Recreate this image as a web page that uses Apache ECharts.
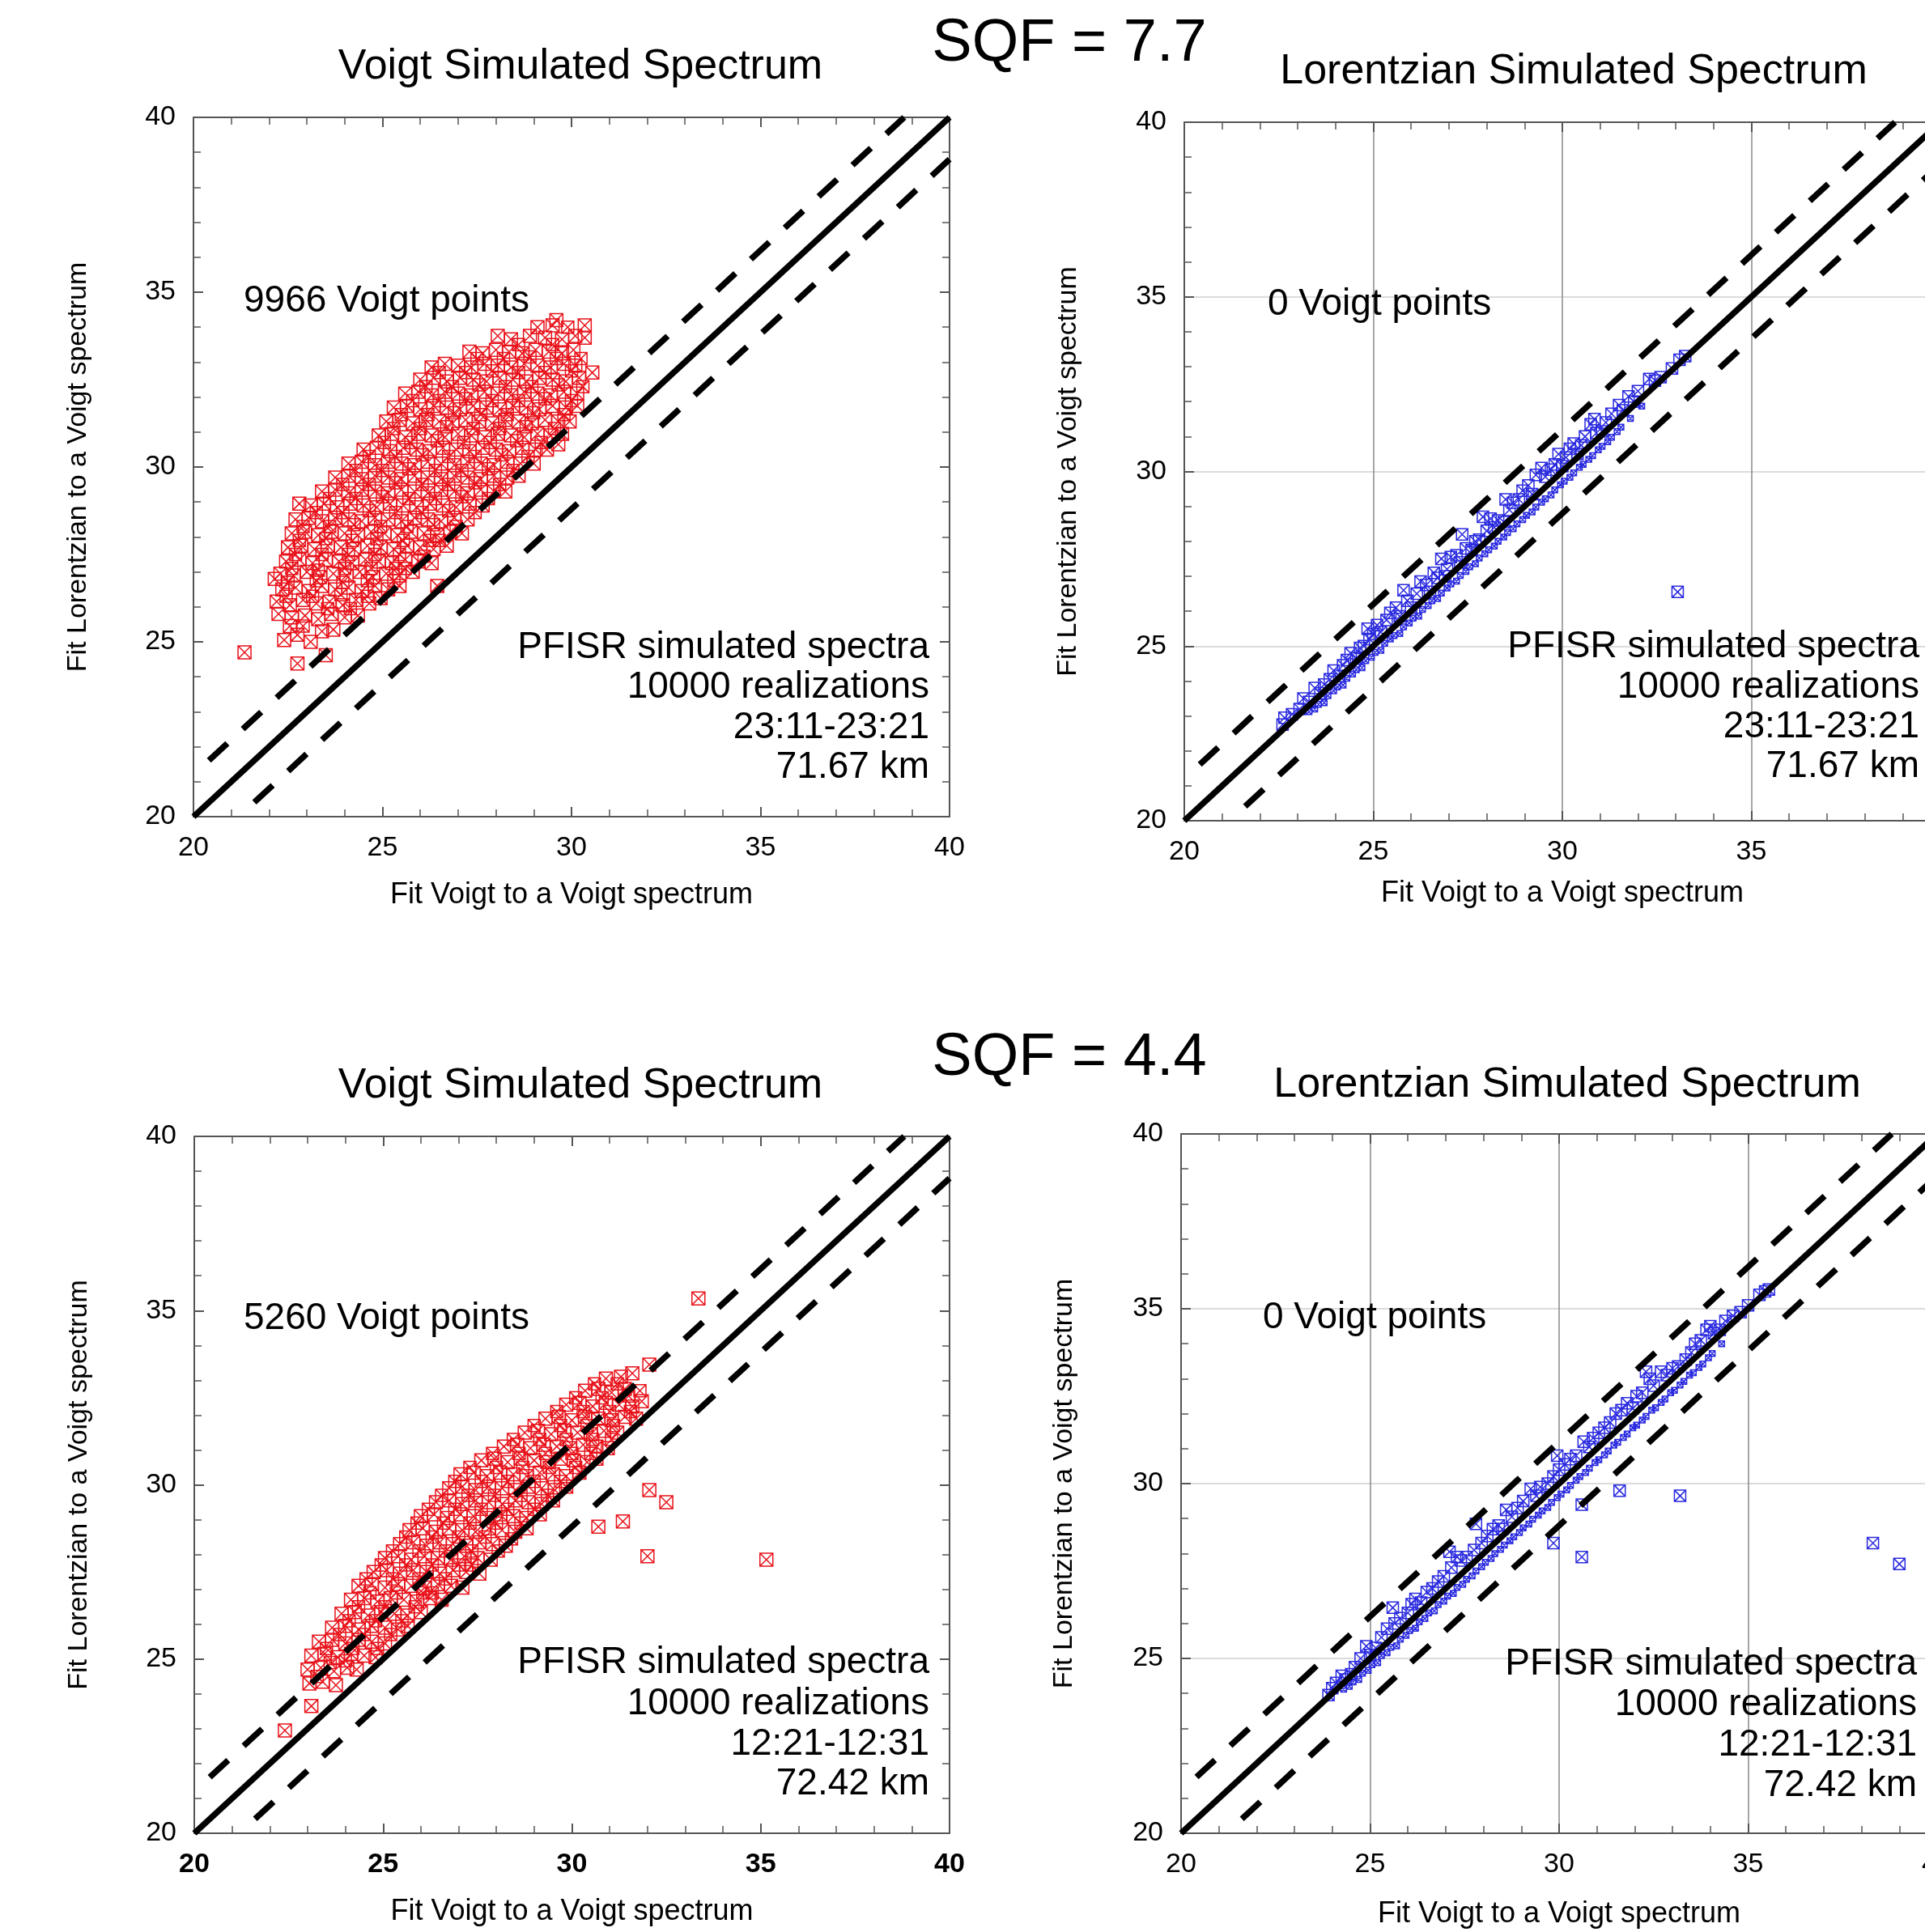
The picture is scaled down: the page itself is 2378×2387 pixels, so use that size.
<!DOCTYPE html>
<html>
<head>
<meta charset="utf-8">
<script src="https://cdn.jsdelivr.net/npm/echarts@6/dist/echarts.min.js"></script>
<style>
  html, body { margin: 0; padding: 0; background: #fff; overflow: hidden; }
  /* the right-hand panels run past the page edge, as in the original figure */
  #chart { width: 2420px; height: 2387px; }
</style>
</head>
<body>
<div id="chart"></div>
<script>
const FONT = '"Liberation Sans", Arial, sans-serif';
const AXIS_MIN = 20;
const AXIS_MAX = 40;
const AXIS_STEP = 5;

const sqfLabels = ["SQF = 7.7", "SQF = 4.4"];
const panelTitles = ["Voigt Simulated Spectrum", "Lorentzian Simulated Spectrum", "Voigt Simulated Spectrum", "Lorentzian Simulated Spectrum"];
const pointCounts = ["9966 Voigt points", "0 Voigt points", "5260 Voigt points", "0 Voigt points"];
const notesTop = ["PFISR simulated spectra", "10000 realizations", "23:11-23:21", "71.67 km"];
const notesBottom = ["PFISR simulated spectra", "10000 realizations", "12:21-12:31", "72.42 km"];
const xName = "Fit Voigt to a Voigt spectrum";
const yName = "Fit Lorentzian to a Voigt spectrum";

// reference lines
const diagonal = [[20, 20], [40, 40]];
const upperBand = [[20, 21.2], [38.8, 40]];
const lowerBand = [[21.2, 20], [40, 38.8]];

// SQF 7.7, Voigt simulated spectrum
const voigt77 = [
  [21.35,24.7],[22.75,24.38],[23.5,24.62],[26.45,26.6],[22.15,26.8],[22.8,28.95],[29.6,34.2],[30.35,34.05],[30.35,33.7],[30.55,32.7],[29.65,30.65],
  [22.4,25.05],[22.75,25.2],[23.1,25.0],[23.4,25.3],[22.55,25.45],[23.7,25.35],
  [22.25,25.8],[22.6,25.7],[22.95,25.75],[23.3,25.65],[23.65,25.8],[24.0,25.7],[24.35,25.75],
  [22.2,26.15],[22.55,26.05],[22.9,26.2],[23.25,26.1],[23.6,26.15],[23.95,26.05],[24.3,26.2],[24.65,26.1],[24.95,26.25],
  [22.35,26.5],[22.7,26.55],[23.05,26.45],[23.4,26.6],[23.75,26.5],[24.1,26.55],[24.45,26.45],[24.8,26.6],[25.15,26.5],[25.45,26.6],
  [22.3,26.95],[22.65,26.9],[23.0,27.0],[23.35,26.85],[23.7,26.95],[24.05,26.9],[24.4,27.0],[24.75,26.85],[25.1,26.95],[25.45,26.9],[25.8,27.0],
  [22.45,27.3],[22.8,27.35],[23.15,27.25],[23.5,27.35],[23.85,27.3],[24.2,27.25],[24.55,27.35],[24.9,27.3],[25.25,27.25],[25.6,27.35],[25.95,27.3],[26.3,27.25],
  [22.5,27.7],[22.85,27.75],[23.2,27.65],[23.55,27.75],[23.9,27.7],[24.25,27.65],[24.6,27.75],[24.95,27.7],[25.3,27.65],[25.65,27.75],[26.0,27.7],[26.35,27.65],[26.7,27.75],
  [22.6,28.1],[22.95,28.15],[23.3,28.05],[23.65,28.15],[24.0,28.1],[24.35,28.05],[24.7,28.15],[25.05,28.1],[25.4,28.05],[25.75,28.15],[26.1,28.1],[26.45,28.05],[26.8,28.15],[27.1,28.1],
  [22.7,28.5],[23.05,28.55],[23.4,28.45],[23.75,28.55],[24.1,28.5],[24.45,28.45],[24.8,28.55],[25.15,28.5],[25.5,28.45],[25.85,28.55],[26.2,28.5],[26.55,28.45],[26.9,28.55],[27.25,28.5],
  [23.1,28.9],[23.45,28.95],[23.8,28.85],[24.15,28.95],[24.5,28.9],[24.85,28.85],[25.2,28.95],[25.55,28.9],[25.9,28.85],[26.25,28.95],[26.6,28.9],[26.95,28.85],[27.3,28.95],[27.65,28.9],
  [23.4,29.3],[23.75,29.35],[24.1,29.25],[24.45,29.35],[24.8,29.3],[25.15,29.25],[25.5,29.35],[25.85,29.3],[26.2,29.25],[26.55,29.35],[26.9,29.3],[27.25,29.25],[27.6,29.35],[27.95,29.3],[28.25,29.3],
  [23.75,29.7],[24.1,29.75],[24.45,29.65],[24.8,29.75],[25.15,29.7],[25.5,29.65],[25.85,29.75],[26.2,29.7],[26.55,29.65],[26.9,29.75],[27.25,29.7],[27.6,29.65],[27.95,29.75],[28.3,29.7],[28.6,29.75],
  [24.1,30.1],[24.45,30.15],[24.8,30.05],[25.15,30.15],[25.5,30.1],[25.85,30.05],[26.2,30.15],[26.55,30.1],[26.9,30.05],[27.25,30.15],[27.6,30.1],[27.95,30.05],[28.3,30.15],[28.65,30.1],[29.0,30.1],
  [24.5,30.5],[24.85,30.55],[25.2,30.45],[25.55,30.55],[25.9,30.5],[26.25,30.45],[26.6,30.55],[26.95,30.5],[27.3,30.45],[27.65,30.55],[28.0,30.5],[28.35,30.45],[28.7,30.55],[29.05,30.5],[29.35,30.5],
  [24.9,30.9],[25.25,30.95],[25.6,30.85],[25.95,30.95],[26.3,30.9],[26.65,30.85],[27.0,30.95],[27.35,30.9],[27.7,30.85],[28.05,30.95],[28.4,30.9],[28.75,30.85],[29.1,30.95],[29.45,30.9],[29.75,30.95],
  [25.1,31.3],[25.45,31.35],[25.8,31.25],[26.15,31.35],[26.5,31.3],[26.85,31.25],[27.2,31.35],[27.55,31.3],[27.9,31.25],[28.25,31.35],[28.6,31.3],[28.95,31.25],[29.3,31.35],[29.65,31.3],[29.95,31.3],
  [25.3,31.7],[25.65,31.75],[26.0,31.65],[26.35,31.75],[26.7,31.7],[27.05,31.65],[27.4,31.75],[27.75,31.7],[28.1,31.65],[28.45,31.75],[28.8,31.7],[29.15,31.65],[29.5,31.75],[29.85,31.7],[30.15,31.75],
  [25.6,32.1],[25.95,32.15],[26.3,32.05],[26.65,32.15],[27.0,32.1],[27.35,32.05],[27.7,32.15],[28.05,32.1],[28.4,32.05],[28.75,32.15],[29.1,32.1],[29.45,32.05],[29.8,32.15],[30.15,32.1],
  [26.0,32.5],[26.35,32.55],[26.7,32.45],[27.05,32.55],[27.4,32.5],[27.75,32.45],[28.1,32.55],[28.45,32.5],[28.8,32.45],[29.15,32.55],[29.5,32.5],[29.85,32.45],[30.2,32.55],
  [26.3,32.85],[26.65,32.95],[27.0,32.9],[27.35,32.85],[27.7,32.95],[28.05,32.9],[28.4,32.85],[28.75,32.95],[29.1,32.9],[29.45,32.85],[29.8,32.95],[30.1,32.9],
  [27.3,33.3],[27.65,33.25],[28.0,33.35],[28.35,33.3],[28.7,33.25],[29.05,33.35],[29.4,33.3],[29.75,33.25],[30.05,33.35],
  [28.05,33.75],[28.4,33.65],[28.9,33.75],[29.3,33.7],[29.75,33.65],[30.1,33.75],
  [29.1,34.0],[29.5,34.05]
];
const voigt77Fill = [
  [22.9,25.45],[23.55,25.95],[24.15,25.95],[22.45,26.3],[23.15,26.3],[23.9,26.35],[24.6,26.3],[25.3,26.75],[22.5,26.7],[23.25,26.75],
  [23.95,26.7],[24.6,26.75],[25.6,27.1],[22.6,27.1],[23.3,27.05],[24.0,27.1],[24.7,27.1],[25.35,27.1],[26.1,27.45],[22.7,27.5],
  [23.4,27.5],[24.1,27.5],[24.8,27.5],[25.45,27.5],[26.5,27.9],[22.8,27.9],[23.5,27.95],[24.2,27.9],[24.85,27.95],[25.55,27.9],
  [26.25,27.9],[26.95,28.3],[22.9,28.3],[23.6,28.3],[24.25,28.35],[24.95,28.3],[25.65,28.3],[26.35,28.35],[27.45,28.7],[23.25,28.7],
  [23.95,28.7],[24.65,28.75],[25.35,28.7],[26.05,28.7],[26.75,28.75],[27.8,29.1],[23.6,29.1],[24.3,29.1],[25.0,29.15],[25.7,29.1],
  [26.4,29.1],[27.1,29.15],[28.1,29.5],[23.95,29.5],[24.65,29.5],[25.35,29.55],[26.05,29.5],[26.75,29.5],[27.45,29.55],[28.45,29.9],
  [24.3,29.9],[25.0,29.9],[25.7,29.95],[26.4,29.9],[27.1,29.9],[27.8,29.95],[28.85,30.3],[24.65,30.3],[25.35,30.3],[26.05,30.35],
  [26.75,30.3],[27.45,30.3],[28.15,30.35],[29.2,30.7],[25.05,30.7],[25.75,30.7],[26.45,30.75],[27.15,30.7],[27.85,30.7],[28.55,30.75],
  [29.55,31.1],[25.3,31.1],[26.0,31.1],[26.7,31.15],[27.4,31.1],[28.1,31.1],[28.8,31.15],[29.8,31.5],[25.5,31.5],[26.2,31.5],
  [26.9,31.55],[27.6,31.5],[28.3,31.5],[29.0,31.55],[30.0,31.9],[25.8,31.9],[26.5,31.9],[27.2,31.95],[27.9,31.9],[28.6,31.9],
  [29.3,31.95],[26.15,32.3],[26.85,32.3],[27.55,32.35],[28.25,32.3],[28.95,32.3],[29.65,32.35],[30.3,32.3],[26.5,32.7],[27.2,32.7],
  [27.9,32.75],[28.6,32.7],[29.3,32.7],[30.0,32.75],[27.5,33.1],[28.2,33.1],[28.9,33.15],[29.6,33.1],[30.25,33.1],[28.6,33.5],
  [29.5,33.5],[29.9,34.0]
];

// SQF 7.7, Lorentzian simulated spectrum (large markers above the diagonal, small below)
const lorentz77Big = [
  [22.6,22.75],[22.65,22.95],[23.05,23.2],[23.3,23.4],[23.45,23.8],[23.7,23.9],[23.95,24.3],[24.2,24.45],[24.4,24.8],[24.65,24.95],
  [24.85,25.5],[24.9,25.2],[25.1,25.6],[25.35,25.75],[25.6,26.1],[25.8,26.6],[25.9,26.3],[26.15,26.5],[26.4,26.75],[26.6,27.1],
  [26.8,27.5],[26.95,27.2],[27.2,27.6],[27.35,28.2],[27.45,27.8],[27.7,28.0],[27.9,28.7],[28.0,28.3],[28.3,28.6],[28.5,29.2],
  [28.6,28.9],[28.85,29.2],[29.1,29.6],[29.3,29.9],[29.45,30.1],[29.7,30.05],[29.9,30.5],[30.1,30.4],[30.3,30.8],[30.5,30.75],
  [30.75,31.35],[30.9,31.1],[31.15,31.4],[31.5,31.9],[31.75,32.15],[31.9,32.0],[32.3,32.65],[32.6,32.7],[33.25,33.3],[33.05,26.55],
  [22.85,23.05],[23.15,23.5],[23.6,23.65],[23.85,24.05],[24.1,24.15],[24.3,24.6],[24.55,24.65],[24.75,25.0],[25.0,25.35],[25.2,25.4],
  [25.45,25.95],[25.7,25.85],[26.0,26.1],[26.25,26.85],[26.5,26.55],[26.7,26.95],[26.9,27.0],[27.05,27.55],[27.3,27.4],[27.6,27.75],
  [27.8,28.05],[28.1,28.65],[28.2,28.4],[28.45,28.55],[28.7,29.1],[28.95,29.45],[29.2,29.35],[29.55,29.85],[29.8,30.2],[30.0,30.15],
  [30.2,30.65],[30.4,30.5],[30.6,31.0],[30.85,31.5],[31.05,31.15],[31.3,31.65],[31.6,31.75],[32.0,32.3],[32.45,32.6],[32.9,32.95],[33.1,33.2]
];
const lorentz77Small = [
  [23.3,23.12],[23.55,23.33],[23.8,23.58],[24.05,23.83],[24.3,24.08],[24.55,24.32],[24.8,24.58],[25.05,24.82],[25.3,25.08],[25.55,25.3],
  [25.8,25.55],[26.05,25.8],[26.3,26.05],[26.55,26.3],[26.8,26.52],[27.05,26.78],[27.3,27.02],[27.55,27.27],[27.8,27.52],[28.05,27.76],
  [28.3,28.0],[28.55,28.25],[28.8,28.5],[29.05,28.74],[29.3,28.98],[29.55,29.22],[29.8,29.47],[30.05,29.72],[30.3,29.96],[30.55,30.2],
  [30.8,30.45],[31.05,30.72],[31.3,30.98],[31.55,31.27],
  [23.7,23.38],[24.2,23.88],[24.7,24.38],[25.2,24.88],[25.7,25.36],[26.2,25.86],[26.7,26.36],[27.2,26.86],[27.7,27.36],[28.2,27.86],
  [28.7,28.36],[29.2,28.84],[29.7,29.33],[30.2,29.83],[30.7,30.35],[31.2,30.85],
  [23.45,23.2],[23.95,23.72],[24.45,24.2],[24.95,24.68],[25.45,25.2],[25.95,25.66],[26.45,26.16],[26.95,26.66],[27.45,27.14],[27.95,27.64],
  [28.45,28.12],[28.95,28.62],[29.45,29.12],[29.95,29.62],[30.45,30.12],[30.95,30.62],[31.45,31.14],[31.8,31.52],[32.1,31.87]
];

// SQF 4.4, Voigt simulated spectrum
const voigt44 = [
  [33.35,35.35],[32.05,33.45],[32.05,29.85],[32.5,29.5],[30.7,28.8],[31.35,28.95],[32.0,27.95],[35.15,27.85],[22.4,22.95],[23.1,23.65],
  [23.05,24.3],[23.4,24.35],[23.75,24.25],
  [23.0,24.7],[23.35,24.75],[23.7,24.65],[24.05,24.75],[24.3,24.7],
  [23.1,25.1],[23.45,25.15],[23.8,25.05],[24.15,25.15],[24.5,25.1],[24.8,25.05],
  [23.3,25.5],[23.65,25.55],[24.0,25.45],[24.35,25.55],[24.7,25.5],[25.05,25.45],
  [23.65,25.9],[24.0,25.95],[24.35,25.85],[24.7,25.95],[25.05,25.9],[25.4,25.85],[25.65,25.95],
  [23.9,26.3],[24.25,26.35],[24.6,26.25],[24.95,26.35],[25.3,26.3],[25.65,26.25],[26.0,26.35],
  [24.15,26.7],[24.5,26.75],[24.85,26.65],[25.2,26.75],[25.55,26.7],[25.9,26.65],[26.25,26.75],[26.55,26.7],
  [24.35,27.1],[24.7,27.15],[25.05,27.05],[25.4,27.15],[25.75,27.1],[26.1,27.05],[26.45,27.15],[26.8,27.1],[27.1,27.05],
  [24.75,27.5],[25.1,27.55],[25.45,27.45],[25.8,27.55],[26.15,27.5],[26.5,27.45],[26.85,27.55],[27.2,27.5],[27.55,27.45],
  [25.05,27.9],[25.4,27.95],[25.75,27.85],[26.1,27.95],[26.45,27.9],[26.8,27.85],[27.15,27.95],[27.5,27.9],[27.85,27.85],
  [25.45,28.3],[25.8,28.35],[26.15,28.25],[26.5,28.35],[26.85,28.3],[27.2,28.25],[27.55,28.35],[27.9,28.3],[28.25,28.25],
  [25.7,28.7],[26.05,28.75],[26.4,28.65],[26.75,28.75],[27.1,28.7],[27.45,28.65],[27.8,28.75],[28.15,28.7],[28.5,28.65],[28.8,28.75],
  [26.0,29.1],[26.35,29.15],[26.7,29.05],[27.05,29.15],[27.4,29.1],[27.75,29.05],[28.1,29.15],[28.45,29.1],[28.8,29.05],[29.15,29.15],
  [26.4,29.5],[26.75,29.55],[27.1,29.45],[27.45,29.55],[27.8,29.5],[28.15,29.45],[28.5,29.55],[28.85,29.5],[29.2,29.45],[29.5,29.55],
  [26.75,29.9],[27.1,29.95],[27.45,29.85],[27.8,29.95],[28.15,29.9],[28.5,29.85],[28.85,29.95],[29.2,29.9],[29.55,29.85],[29.85,29.95],
  [27.05,30.3],[27.4,30.35],[27.75,30.25],[28.1,30.35],[28.45,30.3],[28.8,30.25],[29.15,30.35],[29.5,30.3],[29.85,30.25],[30.2,30.35],
  [27.6,30.7],[27.95,30.75],[28.3,30.65],[28.65,30.75],[29.0,30.7],[29.35,30.65],[29.7,30.75],[30.05,30.7],[30.4,30.65],[30.65,30.75],
  [28.2,31.1],[28.55,31.15],[28.9,31.05],[29.25,31.15],[29.6,31.1],[29.95,31.05],[30.3,31.15],[30.65,31.1],[30.95,31.05],
  [28.75,31.5],[29.1,31.55],[29.45,31.45],[29.8,31.55],[30.15,31.5],[30.5,31.45],[30.85,31.55],[31.2,31.5],
  [29.3,31.9],[29.65,31.95],[30.0,31.85],[30.35,31.95],[30.7,31.9],[31.05,31.85],[31.4,31.95],[31.7,31.9],
  [29.85,32.3],[30.2,32.35],[30.55,32.25],[30.9,32.35],[31.25,32.3],[31.6,32.25],[31.85,32.4],
  [30.35,32.7],[30.7,32.75],[31.05,32.65],[31.4,32.75],
  [30.9,33.05],[31.3,33.1],[31.6,33.2]
];
const voigt44Fill = [
  [23.25,24.5],[23.6,24.9],[24.0,24.95],[23.5,25.3],[24.2,25.3],[24.85,25.3],[23.85,25.7],[24.5,25.7],[25.2,25.7],[24.1,26.1],
  [24.8,26.1],[25.5,26.1],[25.85,26.5],[24.35,26.5],[25.05,26.5],[26.3,26.9],[24.65,26.9],[25.35,26.9],[26.05,26.9],[24.55,27.3],
  [25.25,27.3],[25.95,27.3],[26.65,27.3],[27.35,27.7],[24.95,27.7],[25.6,27.7],[26.3,27.7],[27.0,27.7],[25.25,28.1],[25.95,28.1],
  [26.65,28.1],[27.35,28.1],[28.05,28.1],[25.6,28.5],[26.3,28.5],[27.0,28.5],[27.7,28.5],[28.4,28.45],[25.9,28.9],[26.6,28.9],
  [27.3,28.9],[28.0,28.9],[28.65,28.9],[26.2,29.3],[26.9,29.3],[27.6,29.3],[28.3,29.3],[29.0,29.3],[26.55,29.7],[27.25,29.7],
  [27.95,29.7],[28.65,29.7],[29.35,29.7],[26.9,30.1],[27.6,30.1],[28.3,30.1],[29.0,30.1],[29.7,30.1],[27.3,30.5],[28.0,30.5],
  [28.7,30.5],[29.4,30.5],[30.1,30.5],[27.9,30.9],[28.6,30.9],[29.3,30.9],[30.0,30.9],[30.5,30.9],[28.45,31.3],[29.15,31.3],
  [29.85,31.3],[30.55,31.3],[31.05,31.3],[29.0,31.7],[29.7,31.7],[30.4,31.7],[31.1,31.7],[29.6,32.1],[30.3,32.1],[31.0,32.1],
  [31.55,32.1],[30.1,32.5],[30.8,32.5],[31.5,32.55],[30.6,32.9],[31.2,32.9],[31.8,32.7]
];

// SQF 4.4, Lorentzian simulated spectrum
const lorentz44Big = [
  [23.9,23.95],[24.1,24.3],[24.35,24.4],[24.6,24.75],[24.9,25.35],[25.0,25.1],[25.3,25.6],[25.6,26.45],[25.65,26.0],[26.0,26.3],
  [26.2,26.7],[26.5,26.9],[26.8,27.2],[27.1,28.05],[27.15,27.6],[27.4,27.8],[27.8,28.85],[27.75,28.1],[28.1,28.5],[28.4,28.8],
  [28.6,29.25],[28.9,29.3],[29.25,29.85],[29.5,29.9],[29.95,30.8],[30.0,30.4],[30.3,30.7],[30.65,31.2],[30.9,31.3],[31.2,31.6],
  [31.5,32.0],[31.8,32.3],[32.05,32.5],[32.3,33.2],[32.5,32.8],[32.7,33.2],[33.0,33.3],[33.35,33.55],[33.6,34.0],[33.9,34.4],
  [34.1,34.3],[34.4,34.65],[34.8,34.9],[35.3,35.4],[35.55,35.55],
  [24.0,24.15],[24.25,24.5],[24.5,24.55],[24.75,25.0],[25.15,25.3],[25.45,25.85],[25.8,26.15],[26.1,26.55],[26.35,26.6],[26.65,27.0],
  [26.95,27.35],[27.3,27.9],[27.55,27.9],[27.95,28.3],[28.25,28.7],[28.5,28.7],[28.75,29.05],[29.05,29.5],[29.4,29.65],[29.7,30.0],
  [29.85,30.2],[30.15,30.55],[30.45,30.8],[30.8,31.05],[31.05,31.45],[31.35,31.75],[31.65,32.1],[31.95,32.15],[32.2,32.6],[32.4,33.0],
  [32.85,33.1],[33.15,33.35],[33.5,33.75],[33.75,34.1],[34.0,34.5],[34.25,34.4],[34.6,34.8],[35.0,35.1],[35.45,35.5],
  [29.85,28.3],[30.6,29.4],[30.6,27.9],[31.6,29.8],[33.2,29.65],[38.3,28.3],[39.0,27.7]
];
const lorentz44Small = [
  [24.3,24.12],[24.55,24.33],[24.8,24.58],[25.05,24.82],[25.3,25.08],[25.55,25.32],[25.8,25.55],[26.05,25.8],[26.3,26.05],[26.55,26.3],
  [26.8,26.54],[27.05,26.78],[27.3,27.03],[27.55,27.26],[27.8,27.5],[28.05,27.75],[28.3,28.0],[28.55,28.24],[28.8,28.48],[29.05,28.73],
  [29.3,28.98],[29.55,29.22],[29.8,29.46],[30.05,29.7],[30.3,29.95],[30.55,30.2],[30.8,30.44],[31.05,30.68],[31.3,30.93],[31.55,31.18],
  [31.8,31.42],[32.05,31.67],[32.3,31.92],[32.55,32.17],[32.8,32.42],[33.05,32.67],[33.3,32.92],[33.55,33.17],[33.8,33.42],[34.05,33.72],
  [24.7,24.4],[25.2,24.88],[25.7,25.36],[26.2,25.86],[26.7,26.36],[27.2,26.86],[27.7,27.36],[28.2,27.86],[28.7,28.36],[29.2,28.84],
  [29.7,29.32],[30.2,29.82],[30.7,30.32],[31.2,30.82],[31.7,31.32],[32.2,31.82],[32.7,32.32],[33.2,32.82],[33.7,33.32],
  [24.45,24.2],[24.95,24.66],[25.45,25.16],[25.95,25.66],[26.45,26.14],[26.95,26.64],[27.45,27.12],[27.95,27.62],[28.45,28.12],[28.95,28.6],
  [29.45,29.1],[29.95,29.6],[30.45,30.1],[30.95,30.6],[31.45,31.1],[31.95,31.6],[32.45,32.1],[32.95,32.6],[33.45,33.1],[33.95,33.6],[34.3,34.0]
];

const BOX_X = "path://M0,0L10,0L10,10L0,10Z M0,0L10,10 M10,0L0,10";
const RED = "#e8121a";
const BLUE = "#2a2ae0";
const AXIS_COLOR = "#555";

const panels = [
  { grid: { left: 239, top: 145, width: 934, height: 864 }, xGap: 79, yGap: 125, bold: false,
    sets: [{ data: voigt77, color: RED, size: 16 }, { data: voigt77Fill, color: RED, size: 15 }] },
  { grid: { left: 1463, top: 151, width: 934, height: 863 }, xGap: 72, yGap: 126, bold: false, lines: true,
    sets: [{ data: lorentz77Small, color: BLUE, size: 7 }, { data: lorentz77Big, color: BLUE, size: 14 }] },
  { grid: { left: 240, top: 1404, width: 933, height: 861 }, xGap: 79, yGap: 125, bold: true,
    sets: [{ data: voigt44, color: RED, size: 16 }, { data: voigt44Fill, color: RED, size: 15 }] },
  { grid: { left: 1459, top: 1401, width: 934, height: 864 }, xGap: 82, yGap: 127, bold: false, lines: true,
    sets: [{ data: lorentz44Small, color: BLUE, size: 7 }, { data: lorentz44Big, color: BLUE, size: 14 }] },
];

function axisBase(gridIndex, position) {
  return {
    type: "value", gridIndex, position, min: AXIS_MIN, max: AXIS_MAX, interval: AXIS_STEP,
    axisLine: { show: true, onZero: false, lineStyle: { color: AXIS_COLOR, width: 2 } },
    axisTick: { show: true, inside: true, length: 12, lineStyle: { color: AXIS_COLOR, width: 2 } },
    minorTick: { show: true, splitNumber: 5, length: 9, lineStyle: { color: AXIS_COLOR, width: 1.5 } },
    axisLabel: { show: false },
    splitLine: { show: false },
  };
}

const xAxes = [];
const yAxes = [];
const series = [];
panels.forEach((p, i) => {
  const bx = axisBase(i, "bottom");
  bx.axisLabel = { show: true, fontSize: 34, color: "#000", margin: 22, fontFamily: FONT, fontWeight: p.bold ? "bold" : "normal" };
  bx.name = xName;
  bx.nameLocation = "middle";
  bx.nameGap = p.xGap;
  bx.nameTextStyle = { fontSize: 36, color: "#000", fontFamily: FONT };
  if (p.lines) bx.splitLine = { show: true, lineStyle: { color: "#888", width: 1.5 } };
  xAxes.push(bx);
  xAxes.push(axisBase(i, "top"));

  const ly = axisBase(i, "left");
  ly.axisLabel = { show: true, fontSize: 34, color: "#000", margin: 22, fontFamily: FONT };
  ly.name = yName;
  ly.nameLocation = "middle";
  ly.nameGap = p.yGap;
  ly.nameTextStyle = { fontSize: 34, color: "#000", fontFamily: FONT };
  if (p.lines) ly.splitLine = { show: true, lineStyle: { color: "#cfcfcf", width: 1.5 } };
  yAxes.push(ly);
  yAxes.push(axisBase(i, "right"));

  p.sets.forEach((s) => {
    series.push({
      type: "scatter", xAxisIndex: 2 * i, yAxisIndex: 2 * i, data: s.data,
      symbol: BOX_X, symbolSize: s.size, silent: true, z: 2,
      itemStyle: { color: "rgba(0,0,0,0)", borderColor: s.color, borderWidth: 1.5, opacity: 1 },
    });
  });
  [[diagonal, "solid", 0], [upperBand, [31, 26], 31], [lowerBand, [31, 26], 31]].forEach(([d, type, offset]) => {
    series.push({
      type: "line", xAxisIndex: 2 * i, yAxisIndex: 2 * i, data: d, showSymbol: false, symbol: "none",
      silent: true, z: 5, clip: true,
      lineStyle: { color: "#000", width: 7.5, type, dashOffset: offset, cap: "butt" },
    });
  });
});

function label(x, y, text, size, align) {
  return {
    type: "text", x, y, silent: true, z: 10,
    style: {
      text, fill: "#000", font: `${size}px ${FONT}`,
      align, verticalAlign: "middle", textAlign: align, textVerticalAlign: "middle",
    },
  };
}

const graphics = [
  label(1321, 55, sqfLabels[0], 74, "center"),
  label(1321, 1308, sqfLabels[1], 74, "center"),
  label(717, 83, panelTitles[0], 52, "center"),
  label(1944, 89, panelTitles[1], 52, "center"),
  label(717, 1342, panelTitles[2], 52, "center"),
  label(1936, 1341, panelTitles[3], 52, "center"),
  label(301, 372, pointCounts[0], 46, "left"),
  label(1566, 376, pointCounts[1], 46, "left"),
  label(301, 1629, pointCounts[2], 46, "left"),
  label(1560, 1628, pointCounts[3], 46, "left"),
];
[800, 849, 899, 948].forEach((y, k) => graphics.push(label(1148, y, notesTop[k], 46, "right")));
[799, 849, 898, 947].forEach((y, k) => graphics.push(label(2371, y, notesTop[k], 46, "right")));
[2054, 2105, 2155, 2204].forEach((y, k) => graphics.push(label(1148, y, notesBottom[k], 46, "right")));
[2056, 2106, 2156, 2206].forEach((y, k) => graphics.push(label(2368, y, notesBottom[k], 46, "right")));

const chart = echarts.init(document.getElementById("chart"));
chart.setOption({
  backgroundColor: "#fff",
  animation: false,
  textStyle: { fontFamily: FONT },
  grid: panels.map((p) => ({ ...p.grid, containLabel: false })),
  xAxis: xAxes,
  yAxis: yAxes,
  series,
  graphic: graphics,
});
</script>
</body>
</html>
